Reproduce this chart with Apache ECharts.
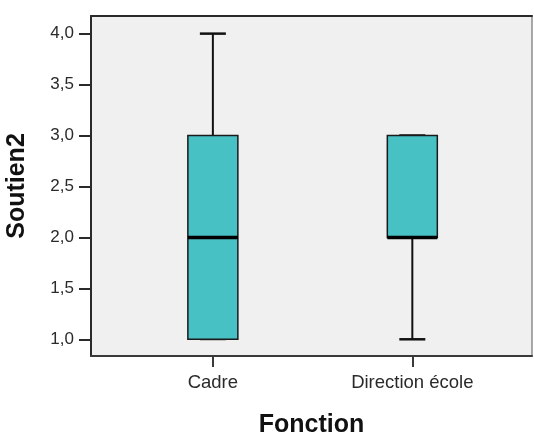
<!DOCTYPE html>
<html>
<head>
<meta charset="utf-8">
<style>
  html, body { margin: 0; padding: 0; background: #ffffff; }
  #chart { width: 534px; height: 434px; }
</style>
<script src="https://cdn.jsdelivr.net/npm/echarts@6/dist/echarts.min.js"></script>
</head>
<body>
<div id="chart"></div>
<script>
// Groups and five-number summaries of Soutien2 per Fonction
const categories = ['Cadre', 'Direction école'];
const minimums  = [1.0, 1.0];
const quartile1 = [1.0, 2.0];
const medians   = [2.0, 2.0];
const quartile3 = [3.0, 3.0];
const maximums  = [4.0, 3.0];

// Y tick values (labels use a decimal comma)
const yTicks = [1.0, 1.5, 2.0, 2.5, 3.0, 3.5, 4.0];

const boxData = categories.map((c, i) => [i, minimums[i], quartile1[i], medians[i], quartile3[i], maximums[i]]);

const FONT = '"Liberation Sans", Arial, sans-serif';
const BOX_FILL = '#48c1c4';

function renderBox(params, api) {
  const idx = api.value(0);
  const pt = v => api.coord([idx, v]);
  const xc = pt(api.value(3))[0];
  const yMin = pt(api.value(1))[1];
  const yQ1 = pt(api.value(2))[1];
  const yMed = pt(api.value(3))[1];
  const yQ3 = pt(api.value(4))[1];
  const yMax = pt(api.value(5))[1];
  const halfBox = 25;
  const halfCap = 13;
  const line = (x1, y1, x2, y2, w, color) => ({
    type: 'line',
    shape: { x1, y1, x2, y2 },
    style: { stroke: color || '#111', lineWidth: w }
  });
  return {
    type: 'group',
    children: [
      line(xc, yMax, xc, yQ3, 2),
      line(xc, yQ1, xc, yMin, 2),
      line(xc - halfCap, yMax, xc + halfCap, yMax, 2.5),
      line(xc - halfCap, yMin, xc + halfCap, yMin, 2.5, yMin === yQ1 ? '#9a9a9a' : '#111'),
      {
        type: 'rect',
        shape: { x: xc - halfBox, y: yQ3, width: halfBox * 2, height: yQ1 - yQ3 },
        style: { fill: BOX_FILL, stroke: '#1a1a1a', lineWidth: 1.5 }
      },
      line(xc - halfBox, yMed, xc + halfBox, yMed, 3.5, '#000')
    ]
  };
}

const chart = echarts.init(document.getElementById('chart'), null, { renderer: 'canvas' });

chart.setOption({
  animation: false,
  backgroundColor: '#ffffff',
  grid: {
    left: 91, right: 2, top: 16, bottom: 78,
    outerBoundsMode: 'none',
    containLabel: false,
    show: true, backgroundColor: '#f0f0f0', borderWidth: 0
  },
  xAxis: [
    {
      type: 'value',
      min: -0.611, max: 1.6,
      name: 'Fonction',
      nameLocation: 'middle',
      nameGap: 57,
      nameTextStyle: { fontFamily: FONT, fontWeight: 'bold', fontSize: 25, color: '#111' },
      splitLine: { show: false },
      axisLine: { show: true, onZero: false, lineStyle: { color: '#3a3a3a', width: 2 } },
      axisTick: { show: true, length: 11, customValues: [0, 1], lineStyle: { color: '#3a3a3a', width: 2 } },
      axisLabel: {
        show: true, margin: 17, customValues: [0, 1],
        formatter: v => categories[Math.round(v)] || '',
        fontFamily: FONT, fontSize: 18.5, color: '#2a2a2a'
      }
    },
    {
      type: 'value', position: 'top',
      min: -0.611, max: 1.6,
      splitLine: { show: false },
      axisLine: { show: true, onZero: false, lineStyle: { color: '#2a2a2a', width: 2 } },
      axisTick: { show: false }, axisLabel: { show: false }
    }
  ],
  yAxis: [
    {
      type: 'value',
      min: 0.836, max: 4.173,
      name: 'Soutien2',
      nameLocation: 'middle',
      nameGap: 61,
      nameTextStyle: { fontFamily: FONT, fontWeight: 'bold', fontSize: 25, color: '#111' },
      splitLine: { show: false },
      axisLine: { show: true, onZero: false, lineStyle: { color: '#2a2a2a', width: 2 } },
      axisTick: { show: true, length: 12, customValues: yTicks, lineStyle: { color: '#2a2a2a', width: 2 } },
      axisLabel: {
        show: true, margin: 17, customValues: yTicks,
        formatter: v => v.toFixed(1).replace('.', ','),
        fontFamily: FONT, fontSize: 17, color: '#2a2a2a'
      }
    },
    {
      type: 'value', position: 'right',
      min: 0.836, max: 4.173,
      splitLine: { show: false },
      axisLine: { show: true, onZero: false, lineStyle: { color: '#8c8c8c', width: 1.5 } },
      axisTick: { show: false }, axisLabel: { show: false }
    }
  ],
  series: [
    {
      type: 'custom',
      xAxisIndex: 0,
      yAxisIndex: 0,
      renderItem: renderBox,
      encode: { x: 0, y: [1, 2, 3, 4, 5] },
      data: boxData,
      clip: false
    }
  ]
});
</script>
</body>
</html>
